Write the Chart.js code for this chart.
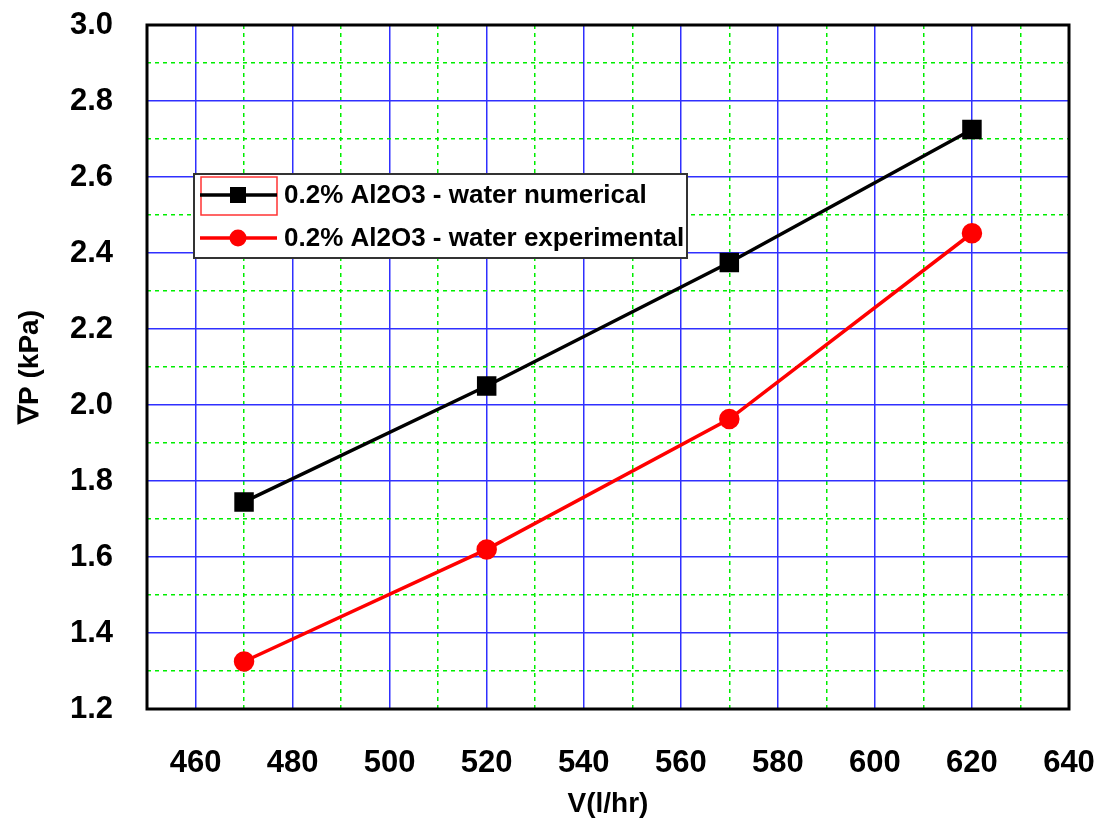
<!DOCTYPE html>
<html>
<head>
<meta charset="utf-8">
<script src="https://cdn.jsdelivr.net/npm/chart.js@4"></script>
<style>
  html, body { margin: 0; padding: 0; background: #fff; }
  #wrap { width: 1107px; height: 830px; }
</style>
</head>
<body>
<div id="wrap"><canvas id="chart" width="1107" height="830"></canvas></div>
<script>
const flowRates = [470, 520, 570, 620];
const numerical = [1.745, 2.05, 2.375, 2.725];
const experimental = [1.325, 1.62, 1.963, 2.452];
const seriesLabels = ['0.2% Al2O3 - water numerical', '0.2% Al2O3 - water experimental'];

const FONT = '"Liberation Sans", Arial, sans-serif';

function gridColor(major) {
    return ctx => {
        if (!ctx.tick) return 'transparent';
        const v = Math.round(ctx.tick.value * 100);
        return v % major === 0 ? '#3030ff' : '#00ee00';
    };
}
function gridDash(major) {
    return ctx => {
        if (!ctx.tick) return [];
        const v = Math.round(ctx.tick.value * 100);
        return v % major === 0 ? [] : [4, 4];
    };
}

// frame around the plot area
const frame = {
    id: 'frame',
    afterDatasetsDraw(chart) {
        const { ctx, chartArea: a } = chart;
        ctx.save();
        ctx.strokeStyle = '#000';
        ctx.lineWidth = 3;
        ctx.strokeRect(a.left, a.top, a.right - a.left, a.bottom - a.top);
        ctx.restore();
    }
};

// legend box sitting inside the plot
const boxLegend = {
    id: 'boxLegend',
    afterDraw(chart) {
        const { ctx } = chart;
        const x0 = 194, y0 = 174, w = 493, h = 84;
        ctx.save();
        ctx.fillStyle = '#fff';
        ctx.fillRect(x0, y0, w, h);
        ctx.strokeStyle = '#333';
        ctx.lineWidth = 2;
        ctx.strokeRect(x0, y0, w, h);
        // selection box around first symbol
        ctx.strokeStyle = '#ff3333';
        ctx.lineWidth = 1.5;
        ctx.strokeRect(201, 177, 76, 38);
        const rows = [195, 238];
        chart.data.datasets.forEach((ds, i) => {
            const y = rows[i];
            ctx.strokeStyle = ds.borderColor;
            ctx.lineWidth = 3.5;
            ctx.beginPath();
            ctx.moveTo(200, y);
            ctx.lineTo(277, y);
            ctx.stroke();
            ctx.fillStyle = ds.backgroundColor;
            if (ds.pointStyle === 'rect') {
                ctx.fillRect(230, y - 8, 16, 16);
            } else {
                ctx.beginPath();
                ctx.arc(238, y, 8.5, 0, Math.PI * 2);
                ctx.fill();
            }
            ctx.fillStyle = '#000';
            ctx.font = 'bold 26px ' + FONT;
            ctx.textBaseline = 'middle';
            ctx.fillText(ds.label, 284, y + 1);
        });
        ctx.restore();
    }
};

new Chart(document.getElementById('chart'), {
    type: 'line',
    data: {
        datasets: [
            {
                label: seriesLabels[0],
                data: flowRates.map((x, i) => ({ x: x, y: numerical[i] })),
                borderColor: '#000',
                backgroundColor: '#000',
                borderWidth: 3.5,
                pointStyle: 'rect',
                pointRadius: 11.3,
                pointHoverRadius: 11.3
            },
            {
                label: seriesLabels[1],
                data: flowRates.map((x, i) => ({ x: x, y: experimental[i] })),
                borderColor: '#ff0000',
                backgroundColor: '#ff0000',
                borderWidth: 3.5,
                pointStyle: 'circle',
                pointRadius: 8.5,
                pointHoverRadius: 8.5
            }
        ]
    },
    options: {
        responsive: false,
        animation: false,
        layout: { padding: { top: 25, right: 38, left: 0, bottom: 0 } },
        plugins: {
            legend: { display: false },
            tooltip: { enabled: false }
        },
        scales: {
            x: {
                type: 'linear',
                min: 450,
                max: 640,
                afterFit: s => {
                    s.height = 121;
                    s.paddingLeft = 0;
                    s.paddingRight = 0;
                },
                ticks: {
                    stepSize: 10,
                    autoSkip: false,
                    maxRotation: 0,
                    padding: 36,
                    color: '#000',
                    font: { family: FONT, size: 31, weight: 'bold' },
                    callback: v => (v % 20 === 0 ? String(v) : '')
                },
                grid: {
                    drawTicks: false,
                    color: gridColor(2000),
                    lineWidth: 1.5
                },
                border: { display: false, dash: gridDash(2000) },
                title: {
                    display: true,
                    text: 'V(l/hr)',
                    color: '#000',
                    font: { family: FONT, size: 28, weight: 'bold' },
                    padding: { top: 0, bottom: 9 }
                }
            },
            y: {
                type: 'linear',
                min: 1.2,
                max: 3.0,
                afterFit: s => {
                    s.width = 147;
                    s.paddingTop = 0;
                    s.paddingBottom = 0;
                },
                ticks: {
                    stepSize: 0.1,
                    autoSkip: false,
                    padding: 34,
                    color: '#000',
                    font: { family: FONT, size: 31, weight: 'bold' },
                    callback: v => (Math.round(v * 10) % 2 === 0 ? v.toFixed(1) : '')
                },
                grid: {
                    drawTicks: false,
                    color: gridColor(20),
                    lineWidth: 1.5
                },
                border: { display: false, dash: gridDash(20) },
                title: {
                    display: true,
                    text: '∇P (kPa)',
                    color: '#000',
                    font: { family: FONT, size: 28, weight: 'bold' },
                    padding: { top: 13, bottom: 0 }
                }
            }
        }
    },
    plugins: [frame, boxLegend]
});
</script>
</body>
</html>
